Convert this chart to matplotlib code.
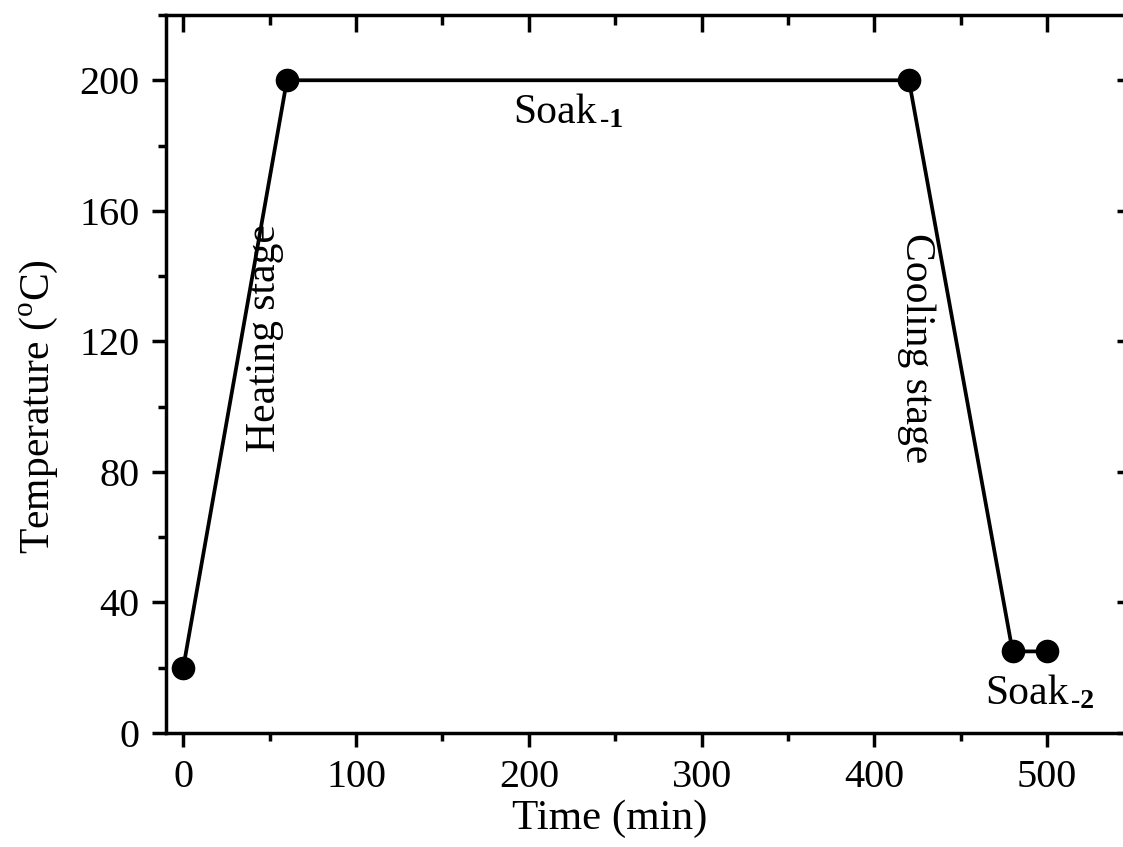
import matplotlib
matplotlib.use("Agg")
import matplotlib.pyplot as plt
from matplotlib.ticker import MultipleLocator

# Temperature profile: heating, soak 1, cooling, soak 2
time_min = [0, 60, 420, 480, 500]
temp_c = [20, 200, 200, 25, 25]

x_ticks = [0, 100, 200, 300, 400, 500]
y_ticks = [0, 40, 80, 120, 160, 200]

plt.rcParams["font.family"] = ["Liberation Serif", "DejaVu Serif"]
plt.rcParams["mathtext.fontset"] = "custom"
plt.rcParams["mathtext.rm"] = "Liberation Serif"
plt.rcParams["mathtext.bf"] = "Liberation Serif:bold"

fig = plt.figure(figsize=(11.23, 8.47), dpi=100)
ax = fig.add_axes([0.1478, 0.1346, 0.8616, 0.8477])

ax.plot(time_min, temp_c, color="black", lw=2.7, marker="o", markersize=16)

ax.set_xlim(-10, 550)
ax.set_ylim(0, 220)
ax.set_xticks(x_ticks)
ax.set_yticks(y_ticks)
ax.xaxis.set_minor_locator(MultipleLocator(50))
ax.yaxis.set_minor_locator(MultipleLocator(20))

for side in ["left", "bottom", "top", "right"]:
    ax.spines[side].set_linewidth(2.5)

ax.tick_params(axis="both", which="major", direction="out", length=10, width=2.5,
               labelsize=29, pad=9)
ax.tick_params(axis="both", which="minor", direction="out", length=6, width=2.5)
# top/right ticks point inward and carry no labels
sec_x = ax.secondary_xaxis("top")
sec_x.set_xticks(x_ticks)
sec_x.xaxis.set_minor_locator(MultipleLocator(50))
sec_x.tick_params(which="major", direction="in", length=12, width=2.5, labeltop=False)
sec_x.tick_params(which="minor", direction="in", length=7, width=2.5)
sec_y = ax.secondary_yaxis("right")
sec_y.set_yticks(y_ticks)
sec_y.yaxis.set_minor_locator(MultipleLocator(20))
sec_y.tick_params(which="major", direction="in", length=12, width=2.5, labelright=False)
sec_y.tick_params(which="minor", direction="in", length=7, width=2.5)

ax.set_xlabel("Time (min)", fontsize=31)
ax.set_ylabel("Temperature ($^{\\mathrm{o}}$C)", fontsize=30)
ax.xaxis.set_label_coords(0.459, -0.093)
ax.yaxis.set_label_coords(-0.11, 0.454)

# stage labels, "-1"/"-2" set as small bold subscripts after "Soak"
soak1 = ax.text(191, 187, "Soak", fontsize=30, ha="left", va="baseline")
ax.annotate("-1", xy=(1, 0), xycoords=soak1, xytext=(3, 5), textcoords="offset pixels",
            fontsize=20, fontweight="bold", ha="left", va="baseline")
soak2 = ax.text(464, 9, "Soak", fontsize=30, ha="left", va="baseline")
ax.annotate("-2", xy=(1, 0), xycoords=soak2, xytext=(3, 5), textcoords="offset pixels",
            fontsize=20, fontweight="bold", ha="left", va="baseline")
ax.text(47, 121, "Heating stage", fontsize=30, rotation=90, ha="center", va="center")
ax.text(424, 118, "Cooling stage", fontsize=30, rotation=-90, ha="center", va="center")

fig.savefig("out.png", dpi=100)
